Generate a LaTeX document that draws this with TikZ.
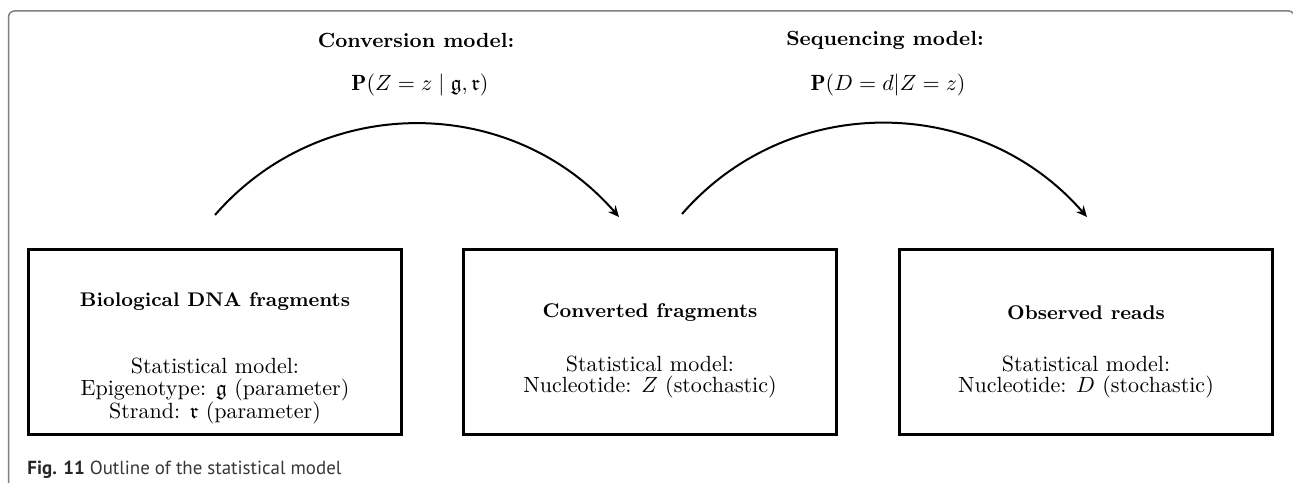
\documentclass[tikz,border=0pt]{standalone}
\usepackage{amsmath,amssymb}
\usepackage{fontspec}
\newfontfamily\capfont{PT Sans}
\usetikzlibrary{arrows.meta}
\def\pxu{0.4545pt}
\definecolor{framegray}{RGB}{128,128,128}
\definecolor{capgray}{RGB}{55,55,55}
\tikzset{
  stagebox/.style={draw=black, line width=3*\pxu, minimum width=373*\pxu, minimum height=185*\pxu, inner sep=0pt},
  heading/.style={font=\fontsize{9}{11}\selectfont\bfseries, inner sep=0pt},
  title/.style={font=\fontsize{9.3}{11}\selectfont\bfseries, inner sep=0pt},
  body/.style={font=\fontsize{10}{12}\selectfont, inner sep=0pt},
  flow/.style={line width=2*\pxu, -{Stealth[length=11*\pxu, width=10*\pxu]}},
}
\begin{document}
\begin{tikzpicture}[x=\pxu, y=-\pxu]
\useasboundingbox (0,0) rectangle (1293,483);
% outer frame
\draw[framegray, line width=1.5*\pxu, rounded corners=6*\pxu] (8.5,490) -- (8.5,11) -- (1294.5,11) -- (1294.5,490);

% boxes
\node[stagebox] (b1) at (215,342) {};
\node[stagebox] (b2) at (650,342) {};
\node[stagebox] (b3) at (1086,342) {};

% box texts
\node[heading] (h1) at (215,302) {Biological DNA fragments};
\node[body] (s1) at (215,366) {Statistical model:};
\node[body] (e1) at (215,390) {Epigenotype: $\mathfrak{g}$ (parameter)};
\node[body] (r1) at (215,413) {Strand: $\mathfrak{r}$ (parameter)};

\node[heading] (h2) at (650,313) {Converted fragments};
\node[body] (s2) at (650,364) {Statistical model:};
\node[body] (n2) at (650,387) {Nucleotide: $Z$ (stochastic)};

\node[heading] (h3) at (1086,313) {Observed reads};
\node[body] (s3) at (1086,364) {Statistical model:};
\node[body] (n3) at (1086,387) {Nucleotide: $D$ (stochastic)};

% model labels
\node[title] (t1) at (416,40) {Conversion model:};
\node[body] (p1) at (420,85) {$\mathbf{P}(Z = z \mid \mathfrak{g}, \mathfrak{r})$};
\node[title] (t2) at (885,40) {Sequencing model:};
\node[body] (p2) at (888,85) {$\mathbf{P}(D = d | Z = z)$};

% arrows
\coordinate (a1s) at (215,215);
\coordinate (a1e) at (619,217);
\coordinate (a2s) at (682,214);
\coordinate (a2e) at (1087,217);
\draw[flow] (a1s) .. controls (322,92) and (512,94) .. (a1e);
\draw[flow] (a2s) .. controls (789,91) and (980,94) .. (a2e);

% caption
\node[anchor=west, inner sep=0pt, font=\capfont\fontsize{8.6}{10}\selectfont, text=capgray] (cap) at (27,470) {\textbf{\color{black!85}Fig. 11} Outline of the statistical model};
\end{tikzpicture}
\end{document}
